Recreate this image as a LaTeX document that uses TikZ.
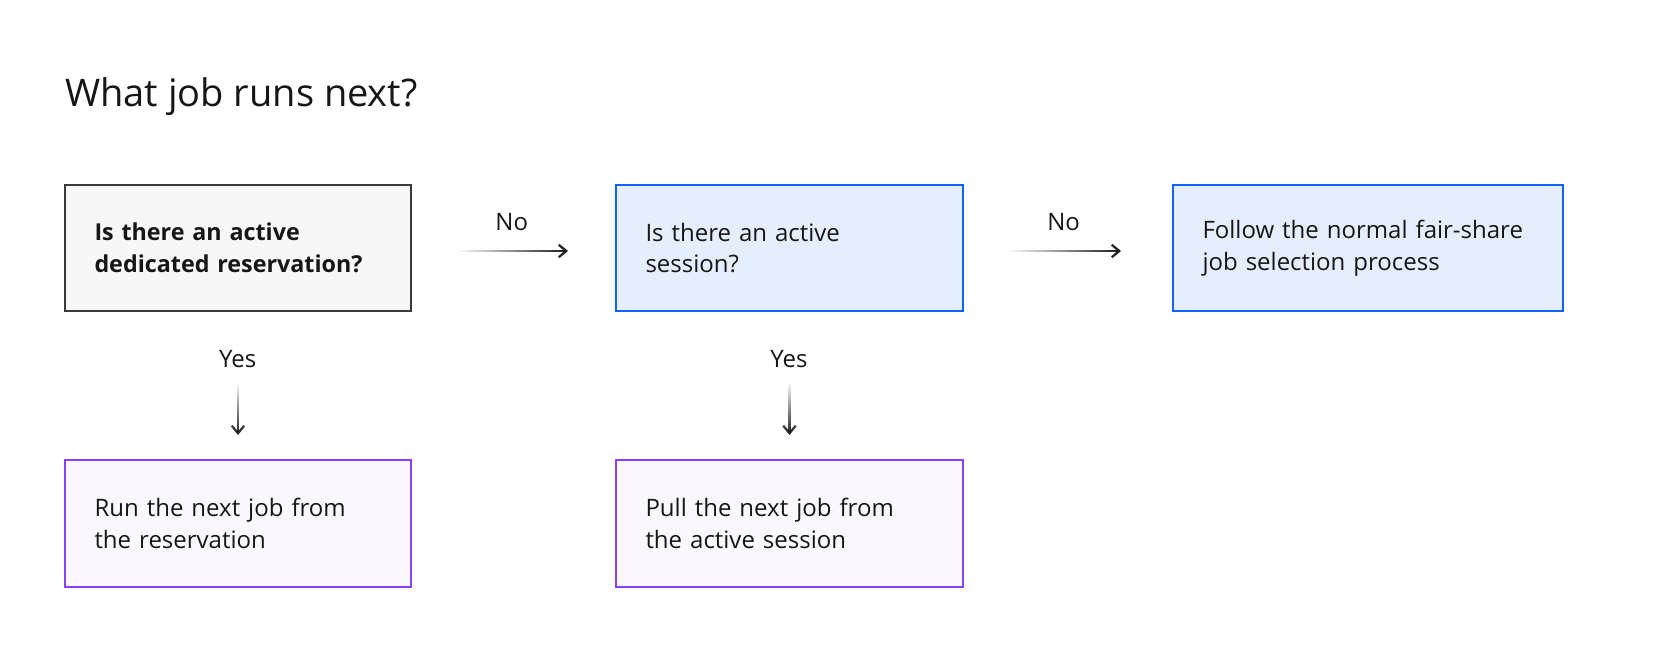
\documentclass[tikz,border=0pt]{standalone}
\usepackage{fontspec}
\setmainfont{Open Sans}
\usetikzlibrary{arrows.meta,fadings}
\definecolor{ink}{HTML}{161616}
\definecolor{grayline}{HTML}{393939}
\definecolor{grayfill}{HTML}{F7F7F7}
\definecolor{blueline}{HTML}{0F62FE}
\definecolor{bluefill}{HTML}{E6EDFD}
\definecolor{purpleline}{HTML}{8A3FFC}
\definecolor{purplefill}{HTML}{FAF7FF}
\tikzfading[name=fadeh, left color=transparent!100, middle color=transparent!0, right color=transparent!0]
\tikzfading[name=fadev, top color=transparent!100, middle color=transparent!0, bottom color=transparent!0]
\tikzset{
  body/.style={font=\fontsize{24}{31.5}\selectfont, text=ink},
  card/.style={body, draw, line width=2pt, rectangle, inner xsep=29.5pt, inner ysep=0pt,
    minimum height=126pt, align=left},
  graycard/.style={card, draw=grayline, fill=grayfill},
  bluecard/.style={card, draw=blueline, fill=bluefill},
  purplecard/.style={card, draw=purpleline, fill=purplefill},
  lbl/.style={body, inner sep=0pt},
  flow/.style={draw=ink, line width=2.3pt, -{Straight Barb[length=7.5pt,width=12.5pt]}},
}
\begin{document}
\begin{tikzpicture}[x=1pt,y=-1pt]
\useasboundingbox (0,0) rectangle (1666,668);
\node[anchor=base west, inner sep=0pt, text=ink, font=\fontsize{38}{45}\selectfont] (title) at (65,106.7) {What job runs next?};

\node[graycard, minimum width=346pt, text width=287pt, font=\fontsize{23.3}{31.5}\selectfont\bfseries] (q1) at (238,248) {Is there an active\\dedicated reservation?};
\node[bluecard, minimum width=347pt, text width=288pt] (q2) at (789.5,248) {Is there an active\\session?};
\node[bluecard, minimum width=390pt, text width=331pt] (fair) at (1368,248) {Follow the normal fair-share\\job selection process};
\node[purplecard, minimum width=346pt, text width=287pt, minimum height=127pt] (r1) at (238,523.5) {Run the next job from\\the reservation};
\node[purplecard, minimum width=347pt, text width=288pt, minimum height=127pt] (r2) at (789.5,523.5) {Pull the next job from\\the active session};

\coordinate (h1s) at (457,251);
\coordinate (h1e) at (568,251);
\coordinate (h2s) at (1008,251);
\coordinate (h2e) at (1121,251);
\coordinate (v1s) at (238,383);
\coordinate (v1e) at (238,435);
\coordinate (v2s) at (789.5,383);
\coordinate (v2e) at (789.5,435);

\draw[flow, path fading=fadeh] (h1s) ++(0,-7) ++(0,14) (h1s) -- (h1e);
\draw[flow, path fading=fadeh] (h2s) ++(0,-7) ++(0,14) (h2s) -- (h2e);
\draw[flow, path fading=fadev] (v1s) ++(-7,0) ++(14,0) (v1s) -- (v1e);
\draw[flow, path fading=fadev] (v2s) ++(-7,0) ++(14,0) (v2s) -- (v2e);

\node[lbl] (no1) at (511.7,221.7) {No};
\node[lbl] (no2) at (1063.6,221.7) {No};
\node[lbl] (yes1) at (237.7,359) {Yes};
\node[lbl] (yes2) at (789,359) {Yes};
\end{tikzpicture}
\end{document}
